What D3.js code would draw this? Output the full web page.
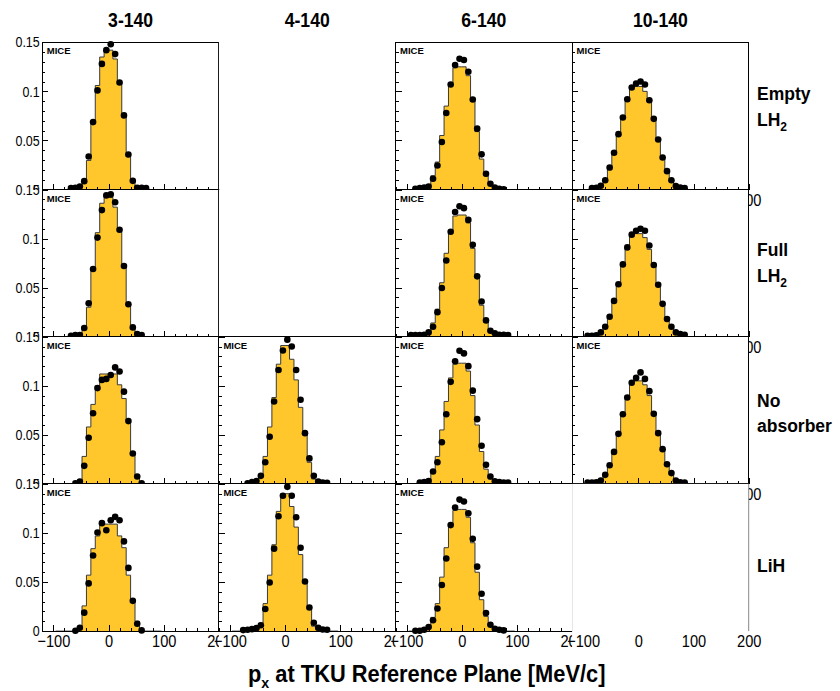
<!DOCTYPE html>
<html>
<head>
<meta charset="utf-8">
<script src="https://cdn.jsdelivr.net/npm/d3@7"></script>
<style>
  body { margin: 0; background: #fff; }
  svg text { font-family: "Liberation Sans", Arial, Helvetica, sans-serif; }
</style>
</head>
<body>
<svg id="chart" width="840" height="691"></svg>
<script>
// bin centres (MeV/c), 8 MeV/c bins
const binCenters = [-92,-84,-76,-68,-60,-52,-44,-36,-28,-20,-12,-4,4,12,20,28,36,44,52,60,68,76,84,92];

const columnTitles = ['3-140', '4-140', '6-140', '10-140'];
const rowLabels = [
  { lines: ['Empty', 'LH'], sub: '2' },
  { lines: ['Full', 'LH'], sub: '2' },
  { lines: ['No', 'absorber'], sub: '' },
  { lines: ['LiH'], sub: '' }
];

const yMajor = [0, 0.05, 0.1, 0.15];
const yMinor = [0.01,0.02,0.03,0.04,0.06,0.07,0.08,0.09,0.11,0.12,0.13,0.14];
const xMajor = [-100, 0, 100, 200];
const xMinor = [-120,-80,-60,-40,-20,20,40,60,80,120,140,160,180];

// data points (black dots) and simulation (yellow histogram)
const dataEmpty3 = [0,0,0,0.0014,0.0017,0.003,0.0085,0.0337,0.0687,0.101,0.128,0.142,0.148,0.138,0.109,0.0755,0.0357,0.0088,0.0017,0.0017,0.0014,0,0,0];
const mcEmpty3   = [0,0,0,0,0.0005,0.002,0.009,0.0296,0.067,0.106,0.135,0.142,0.142,0.133,0.108,0.0745,0.0335,0.009,0.002,0.0005,0,0,0,0];
const dataEmpty6 = [0,0.0007,0.0014,0.002,0.003,0.011,0.0245,0.0484,0.078,0.107,0.1268,0.1333,0.132,0.12,0.0917,0.062,0.0358,0.016,0.0058,0.002,0.0007,0.0003,0,0];
const mcEmpty6   = [0,0,0,0.001,0.003,0.014,0.028,0.055,0.085,0.109,0.124,0.125,0.125,0.116,0.09,0.059,0.031,0.014,0.005,0.002,0.001,0,0,0];
const dataEmpty10 = [0,0.0014,0.0017,0.0037,0.0095,0.0224,0.0374,0.0564,0.0734,0.092,0.104,0.108,0.110,0.107,0.091,0.072,0.051,0.0326,0.0187,0.0095,0.0034,0.002,0.0014,0];
const mcEmpty10   = [0,0.001,0.002,0.004,0.01,0.02,0.036,0.055,0.074,0.09,0.102,0.105,0.105,0.1,0.089,0.072,0.052,0.034,0.019,0.009,0.004,0.002,0.001,0];

const dataFull3 = [0,0,0,0.001,0.0017,0.0017,0.0088,0.034,0.069,0.101,0.129,0.144,0.145,0.137,0.109,0.072,0.033,0.0095,0.0027,0.0017,0,0,0,0];
const mcFull3   = [0,0,0,0,0.0005,0.002,0.009,0.03,0.068,0.106,0.136,0.142,0.142,0.132,0.107,0.072,0.033,0.009,0.002,0.0005,0,0,0,0];
const dataFull6 = [0.0017,0.0017,0.0017,0.002,0.0044,0.0101,0.025,0.0497,0.0777,0.107,0.127,0.133,0.131,0.119,0.0936,0.0615,0.0358,0.0166,0.0061,0.0034,0.002,0.002,0.0017,0];
const mcFull6   = [0,0,0,0.001,0.003,0.014,0.028,0.055,0.085,0.108,0.123,0.124,0.124,0.116,0.09,0.06,0.032,0.015,0.005,0.002,0.001,0,0,0];
const dataFull10 = [0.001,0.001,0.0014,0.0044,0.0101,0.0203,0.0365,0.0534,0.0737,0.091,0.104,0.108,0.110,0.108,0.093,0.073,0.053,0.0335,0.018,0.0101,0.0044,0.0027,0.002,0];
const mcFull10   = [0,0.001,0.002,0.004,0.01,0.02,0.036,0.055,0.074,0.09,0.102,0.105,0.105,0.101,0.089,0.072,0.052,0.034,0.019,0.009,0.004,0.002,0.001,0];

const dataNone3 = [0,0,0,0,0.0005,0.0024,0.0184,0.047,0.072,0.0976,0.106,0.107,0.111,0.1187,0.1146,0.094,0.064,0.031,0.0075,0.0007,0,0,0,0];
const mcNone3   = [0,0,0,0,0,0.002,0.028,0.058,0.081,0.1,0.112,0.112,0.112,0.112,0.101,0.087,0.0646,0.033,0.0085,0.001,0,0,0,0];
const dataNone4 = [0,0,0,0.0007,0.002,0.003,0.0082,0.022,0.048,0.084,0.116,0.136,0.147,0.14,0.116,0.0857,0.0517,0.026,0.0082,0.0024,0.0014,0.001,0,0];
const mcNone4   = [0,0,0,0,0.001,0.002,0.008,0.028,0.058,0.088,0.122,0.141,0.141,0.127,0.106,0.078,0.05,0.022,0.005,0.001,0,0,0,0];
const dataNone6 = [0,0,0.0014,0.002,0.003,0.0126,0.022,0.0425,0.071,0.104,0.125,0.1357,0.133,0.12,0.095,0.066,0.0388,0.0194,0.0075,0.0027,0.002,0.0014,0.0014,0];
const mcNone6   = [0,0,0,0.001,0.004,0.013,0.028,0.055,0.084,0.108,0.122,0.123,0.123,0.115,0.09,0.06,0.033,0.015,0.005,0.002,0.001,0,0,0];
const dataNone10 = [0.0014,0.0014,0.0017,0.0034,0.0092,0.019,0.0326,0.051,0.071,0.088,0.103,0.108,0.1136,0.107,0.0945,0.0714,0.0517,0.0354,0.02,0.011,0.0034,0.0017,0.0014,0];
const mcNone10   = [0,0.001,0.002,0.004,0.009,0.019,0.034,0.053,0.073,0.09,0.102,0.105,0.105,0.101,0.09,0.072,0.053,0.035,0.02,0.01,0.004,0.002,0.001,0];

const dataLiH3 = [0,0,0,0,0.0003,0.0034,0.0188,0.0486,0.077,0.1004,0.110,0.1027,0.113,0.1164,0.113,0.0914,0.0644,0.0308,0.0075,0.0007,0,0,0,0];
const mcLiH3   = [0,0,0,0,0,0.002,0.0257,0.057,0.084,0.0969,0.109,0.109,0.109,0.109,0.097,0.085,0.057,0.0326,0.01,0.001,0,0,0,0];
const dataLiH4 = [0,0,0.001,0.0014,0.002,0.003,0.006,0.0225,0.0495,0.084,0.117,0.138,0.147,0.138,0.116,0.085,0.0506,0.024,0.0085,0.0034,0.0017,0.0014,0,0];
const mcLiH4   = [0,0,0,0,0.001,0.002,0.008,0.028,0.057,0.088,0.122,0.14,0.14,0.127,0.106,0.078,0.05,0.022,0.005,0.001,0,0,0,0];
const dataLiH6 = [0,0.0003,0.0003,0.0014,0.0041,0.011,0.023,0.047,0.074,0.108,0.126,0.134,0.132,0.12,0.094,0.0657,0.038,0.0185,0.0065,0.0024,0.0014,0.0007,0,0];
const mcLiH6   = [0,0,0,0.001,0.003,0.014,0.028,0.055,0.085,0.109,0.123,0.124,0.124,0.116,0.09,0.06,0.032,0.015,0.005,0.002,0.001,0,0,0];

// grid of pads: null = empty pad, 'axisOnly' = pad with only x labels
const pads = [
  [{ data: dataEmpty3, mc: mcEmpty3 }, null, { data: dataEmpty6, mc: mcEmpty6 }, { data: dataEmpty10, mc: mcEmpty10 }],
  [{ data: dataFull3, mc: mcFull3 }, null, { data: dataFull6, mc: mcFull6 }, { data: dataFull10, mc: mcFull10 }],
  [{ data: dataNone3, mc: mcNone3 }, { data: dataNone4, mc: mcNone4 }, { data: dataNone6, mc: mcNone6 }, { data: dataNone10, mc: mcNone10 }],
  [{ data: dataLiH3, mc: mcLiH3 }, { data: dataLiH4, mc: mcLiH4 }, { data: dataLiH6, mc: mcLiH6 }, 'axisOnly']
];

const W = 840, H = 691;
const frameLeft = 42.3, frameTop = 42.3, cellW = 176.6, cellH = 147.2;
const fillColor = '#ffc72c';
const svg = d3.select('#chart');

const fmtX = (d) => d < 0 ? '\u2212' + Math.abs(d) : String(d);

function styleAxis(g, fontSize) {
  g.select('.domain').remove();
  g.selectAll('.tick line').attr('stroke', '#000').attr('shape-rendering', 'crispEdges');
  g.selectAll('.tick text')
    .attr('fill', '#000')
    .style('font-size', fontSize + 'px')
    .attr('transform', 'scale(0.86,1)');
}

function drawPad(r, c, panel) {
  const x0 = frameLeft + c * cellW;
  const y0 = frameTop + r * cellH;
  const x = d3.scaleLinear().domain([-120, 200]).range([x0, x0 + cellW]);
  const y = d3.scaleLinear().domain([0, 0.15]).range([y0 + cellH, y0]);
  const g = svg.append('g');

  // white pad background hides labels of pads drawn before
  const padX = c === 0 ? 0 : x0;
  const padB = r === 3 ? H : y0 + cellH;
  g.append('rect')
    .attr('x', padX).attr('y', y0)
    .attr('width', x0 + cellW - padX).attr('height', padB - y0)
    .attr('fill', '#fff');

  if (panel === null) return;

  if (panel === 'axisOnly') {
    const ax = g.append('g')
      .attr('transform', `translate(0,${y0 + cellH})`)
      .call(d3.axisBottom(x).tickValues(xMajor).tickSize(0).tickPadding(4).tickFormat(fmtX));
    styleAxis(ax, 17);
    g.append('line')
      .attr('x1', x0 + cellW).attr('x2', x0 + cellW)
      .attr('y1', y0).attr('y2', y0 + cellH)
      .attr('stroke', '#888');
    return;
  }

  const binW = binCenters[1] - binCenters[0];
  const steps = [];
  binCenters.forEach((bc, i) => {
    steps.push([bc - binW / 2, panel.mc[i]], [bc + binW / 2, panel.mc[i]]);
  });

  g.append('path')
    .datum(steps)
    .attr('d', d3.area().x(d => x(d[0])).y0(y(0)).y1(d => y(d[1])))
    .attr('fill', fillColor);

  g.append('path')
    .datum(steps)
    .attr('d', d3.line().x(d => x(d[0])).y(d => y(d[1])))
    .attr('fill', 'none')
    .attr('stroke', '#3a3a3a')
    .attr('stroke-width', 1);

  // frame
  g.append('rect')
    .attr('x', x0).attr('y', y0)
    .attr('width', cellW).attr('height', cellH)
    .attr('fill', 'none')
    .attr('stroke', '#000')
    .attr('shape-rendering', 'crispEdges');

  // y axis (labels only in the first column)
  const yAx = g.append('g')
    .attr('transform', `translate(${x0},0)`)
    .call(d3.axisLeft(y).tickValues(yMajor).tickSize(-6).tickPadding(3)
      .tickFormat(c === 0 ? (d => String(d)) : ''));
  styleAxis(yAx, 14.5);
  const yMin = g.append('g')
    .attr('transform', `translate(${x0},0)`)
    .call(d3.axisLeft(y).tickValues(yMinor).tickSize(-3).tickFormat(''));
  styleAxis(yMin, 10);

  // x axis
  const xAx = g.append('g')
    .attr('transform', `translate(0,${y0 + cellH})`)
    .call(d3.axisBottom(x).tickValues(xMajor).tickSize(-6).tickPadding(4).tickFormat(fmtX));
  styleAxis(xAx, 17);
  const xMin = g.append('g')
    .attr('transform', `translate(0,${y0 + cellH})`)
    .call(d3.axisBottom(x).tickValues(xMinor).tickSize(-3).tickFormat(''));
  styleAxis(xMin, 10);

  // data points
  g.selectAll('circle.pt')
    .data(binCenters.map((bc, i) => [bc, panel.data[i]]).filter(d => d[1] > 0))
    .join('circle')
    .attr('class', 'pt')
    .attr('cx', d => x(d[0]))
    .attr('cy', d => y(d[1]))
    .attr('r', 3.3)
    .attr('fill', '#000');

  g.append('text')
    .attr('x', x0 + 4.5).attr('y', y0 + 12)
    .style('font-size', '9.5px')
    .style('font-weight', 'bold')
    .text('MICE');
}

pads.forEach((row, r) => row.forEach((panel, c) => drawPad(r, c, panel)));

// column titles
columnTitles.forEach((t, c) => {
  svg.append('g')
    .attr('transform', `translate(${frameLeft + (c + 0.5) * cellW},27) scale(0.88,1)`)
    .append('text')
    .attr('text-anchor', 'middle')
    .style('font-size', '20px')
    .style('font-weight', 'bold')
    .text(t);
});

// row labels
const rowLabelY = [[100, 126], [256, 282], [407, 432], [572]];
rowLabels.forEach((lab, r) => {
  lab.lines.forEach((line, k) => {
    const t = svg.append('text')
      .attr('x', 757).attr('y', rowLabelY[r][k])
      .style('font-size', '17.5px')
      .style('font-weight', 'bold')
      .text(line);
    if (k === lab.lines.length - 1 && lab.sub) {
      t.append('tspan').attr('dy', 5).style('font-size', '12px').text(lab.sub);
    }
  });
});

// x axis title
const xt = svg.append('g')
  .attr('transform', 'translate(248,682) scale(0.95,1)')
  .append('text')
  .style('font-size', '23px')
  .style('font-weight', 'bold');
xt.append('tspan').text('p');
xt.append('tspan').attr('dy', 6).style('font-size', '15px').text('x');
xt.append('tspan').attr('dy', -6).text(' at TKU Reference Plane [MeV/c]');
</script>
</body>
</html>
